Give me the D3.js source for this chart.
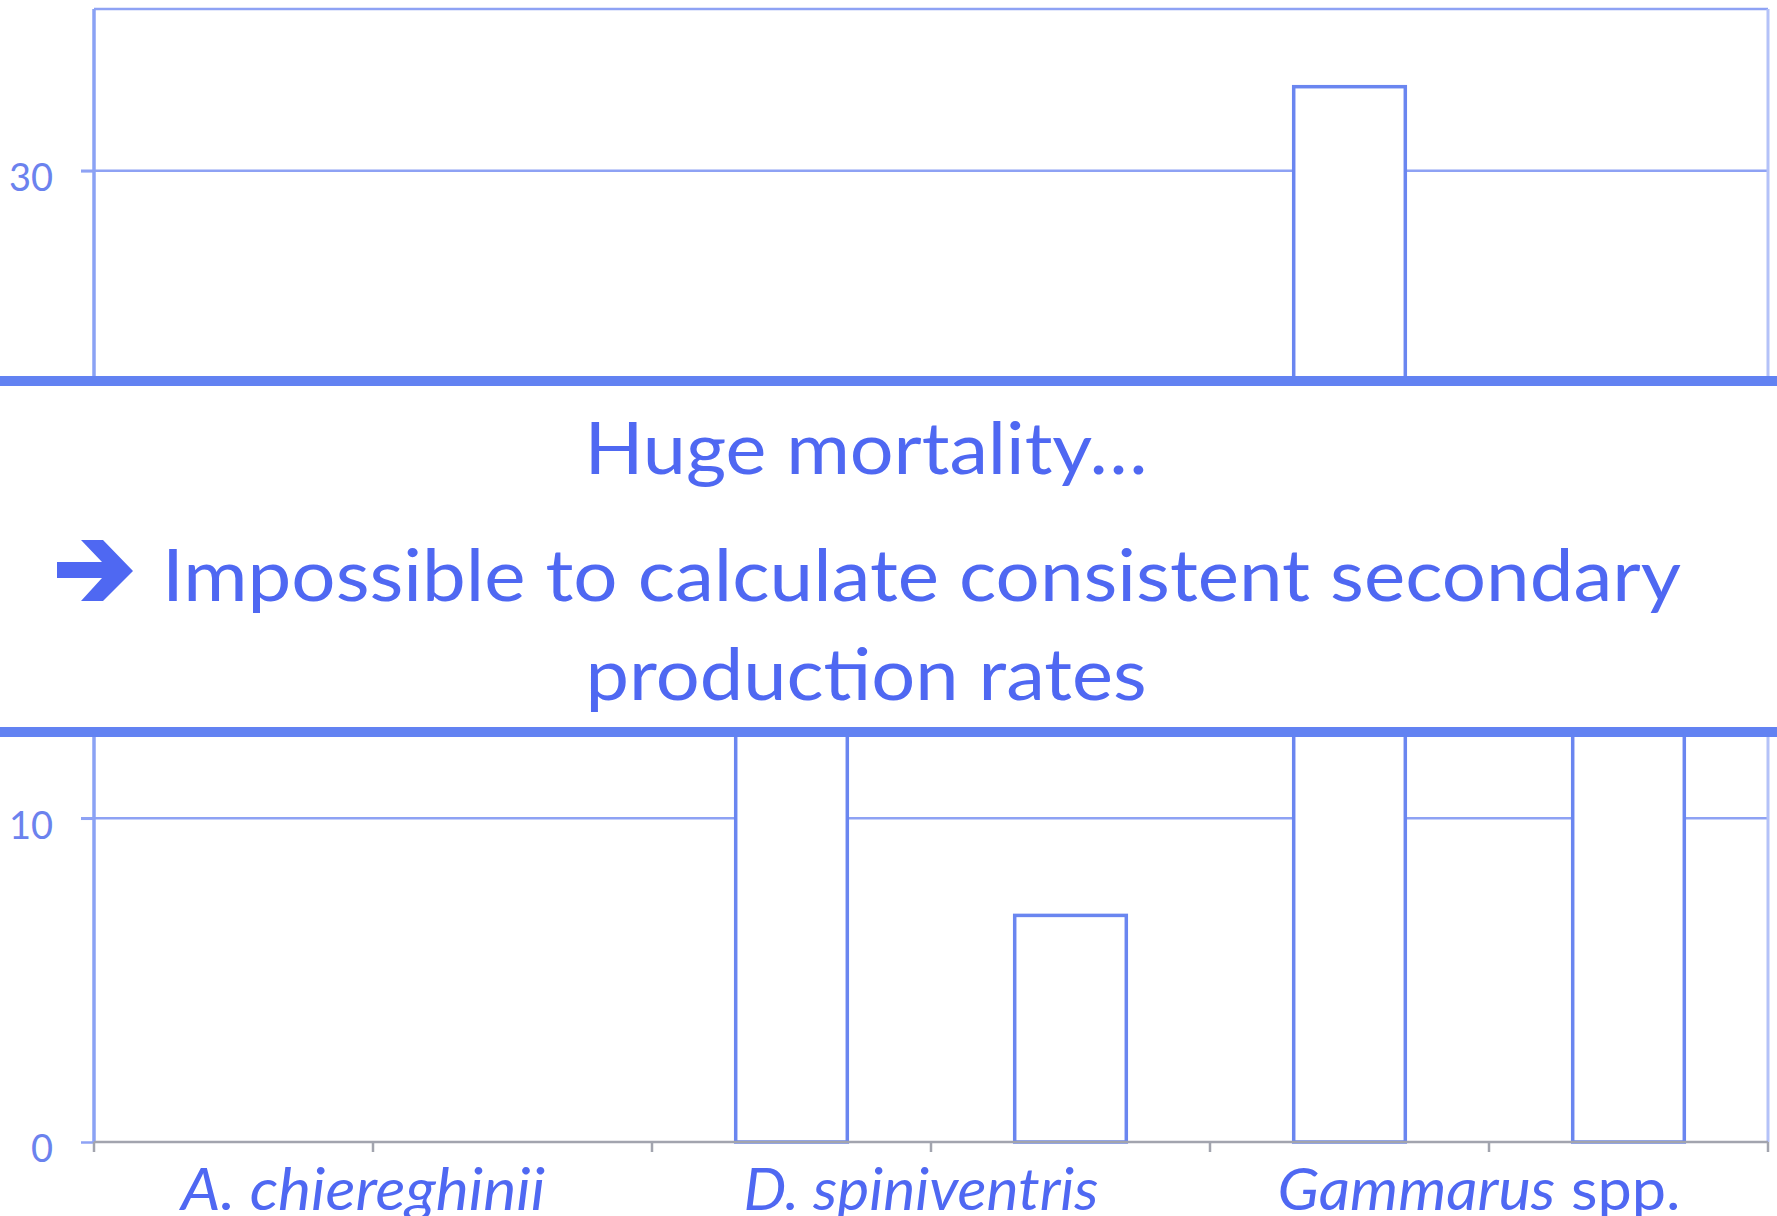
<!DOCTYPE html>
<html>
<head>
<meta charset="utf-8">
<script src="https://cdnjs.cloudflare.com/ajax/libs/d3/7.8.5/d3.min.js"></script>
<style>
  html, body { margin: 0; padding: 0; background: #fff; }
  svg { display: block; }
</style>
</head>
<body>
<svg id="chart"></svg>
<script>
const width = 1777;
const height = 1216;

// chart data
const species = ["A. chiereghinii", "D. spiniventris", "Gammarus spp."];
const slots = ["A1", "A2", "D1", "D2", "G1", "G2"];
const slotSpecies = [0, 0, 1, 1, 2, 2];
const values = [0, 0, 18, 7, 32.6, 16];
const yTicks = [0, 10, 20, 30];

const line1 = "Huge mortality…";
const line2 = "Impossible to calculate consistent secondary";
const line3 = "production rates";

const blue = "#4f68f2";
const band = "#6282f2";
const font = "Lato, 'Open Sans', sans-serif";

const margin = {top: 9, right: 9, bottom: 74, left: 94};

const svg = d3.select("#chart")
    .attr("width", width)
    .attr("height", height);

svg.append("rect")
    .attr("width", width)
    .attr("height", height)
    .attr("fill", "#fff");

const x = d3.scaleBand()
    .domain(slots)
    .range([margin.left, width - margin.right])
    .paddingInner(0.6)
    .paddingOuter(0.3);

const y = d3.scaleLinear()
    .domain([0, 35])
    .range([height - margin.bottom, margin.top]);

// gridlines
svg.append("g")
    .selectAll("line")
    .data(yTicks.filter(d => d > 0))
    .enter().append("line")
    .attr("x1", margin.left - 13)
    .attr("x2", width - margin.right)
    .attr("y1", d => y(d))
    .attr("y2", d => y(d))
    .attr("stroke", "#8ea2f4")
    .attr("stroke-width", 2.5);

// frame top + right
svg.append("line")
    .attr("x1", margin.left).attr("x2", width - margin.right)
    .attr("y1", y(35)).attr("y2", y(35))
    .attr("stroke", "#8ea2f4").attr("stroke-width", 2.5);
svg.append("line")
    .attr("x1", width - margin.right).attr("x2", width - margin.right)
    .attr("y1", y(35)).attr("y2", y(0))
    .attr("stroke", "#b4c2f8").attr("stroke-width", 3);

// bars
svg.append("g")
    .selectAll("rect")
    .data(values.map((v, i) => ({slot: slots[i], value: v})).filter(d => d.value > 0))
    .enter().append("rect")
    .attr("x", d => x(d.slot))
    .attr("y", d => y(d.value))
    .attr("width", x.bandwidth())
    .attr("height", d => y(0) - y(d.value))
    .attr("fill", "#fff")
    .attr("stroke", "#6a86f0")
    .attr("stroke-width", 3.5);

// y axis
const yAxis = svg.append("g")
    .attr("transform", "translate(" + margin.left + ",0)")
    .call(d3.axisLeft(y).tickValues(yTicks).tickSize(13).tickPadding(28));
yAxis.select(".domain")
    .attr("d", "M0," + y(35) + "V" + y(0))
    .attr("stroke", "#8aa2f4")
    .attr("stroke-width", 3.5);
yAxis.selectAll(".tick line")
    .attr("stroke", "#8ea2f4")
    .attr("stroke-width", 2.5);
yAxis.selectAll(".tick text")
    .attr("font-family", font)
    .attr("font-size", 38)
    .attr("fill", "#6b82ee")
    .attr("dy", "0.52em");

// x axis (grey), ticks on slot boundaries
const boundaries = slots.map(s => x(s) - x.step() * x.paddingInner() / 2)
    .concat([width - margin.right]);
const xAxis = svg.append("g");
xAxis.append("line")
    .attr("x1", margin.left).attr("x2", width - margin.right)
    .attr("y1", y(0)).attr("y2", y(0))
    .attr("stroke", "#a2a4ae").attr("stroke-width", 2.5);
xAxis.selectAll(".xtick")
    .data(boundaries)
    .enter().append("line")
    .attr("class", "xtick")
    .attr("x1", d => d).attr("x2", d => d)
    .attr("y1", y(0)).attr("y2", y(0) + 10)
    .attr("stroke", "#a2a4ae").attr("stroke-width", 2.5);

// species labels centred on their two slots
const labelWidths = [364, 355, 403];
const labels = svg.append("g")
    .selectAll("text")
    .data(species)
    .enter().append("text")
    .attr("x", (d, i) => {
        const s = slots.filter((_, j) => slotSpecies[j] === i);
        return (x(s[0]) + x(s[s.length - 1]) + x.bandwidth()) / 2 - 10;
    })
    .attr("y", 1210)
    .attr("text-anchor", "middle")
    .attr("font-family", font)
    .attr("font-size", 58)
    .attr("fill", blue)
    .attr("textLength", (d, i) => labelWidths[i])
    .attr("lengthAdjust", "spacingAndGlyphs");
labels.each(function(d) {
    const t = d3.select(this);
    if (d.endsWith(" spp.")) {
        t.append("tspan").attr("font-style", "italic").text(d.replace(" spp.", ""));
        t.append("tspan").text(" spp.");
    } else {
        t.append("tspan").attr("font-style", "italic").text(d);
    }
});

// white text box covering the middle of the chart
const box = svg.append("g");
box.append("rect")
    .attr("x", 0).attr("y", 381)
    .attr("width", width).attr("height", 351)
    .attr("fill", "#fff");
box.append("rect")
    .attr("x", 0).attr("y", 376)
    .attr("width", width).attr("height", 10)
    .attr("fill", band);
box.append("rect")
    .attr("x", 0).attr("y", 727)
    .attr("width", width).attr("height", 10)
    .attr("fill", band);

box.append("text")
    .attr("x", 866).attr("y", 474)
    .attr("text-anchor", "middle")
    .attr("font-family", font).attr("font-size", 72)
    .attr("fill", blue)
    .attr("textLength", 563).attr("lengthAdjust", "spacingAndGlyphs")
    .text(line1);

box.append("path")
    .attr("d", "M57,562H102L81,540H103L133,571L103,601H81L102,578H57Z")
    .attr("fill", blue);

box.append("text")
    .attr("x", 162).attr("y", 601)
    .attr("font-family", font).attr("font-size", 72)
    .attr("fill", blue)
    .attr("textLength", 1519).attr("lengthAdjust", "spacingAndGlyphs")
    .text(line2);

box.append("text")
    .attr("x", 866).attr("y", 700)
    .attr("text-anchor", "middle")
    .attr("font-family", font).attr("font-size", 72)
    .attr("fill", blue)
    .attr("textLength", 561).attr("lengthAdjust", "spacingAndGlyphs")
    .text(line3);
</script>
</body>
</html>
